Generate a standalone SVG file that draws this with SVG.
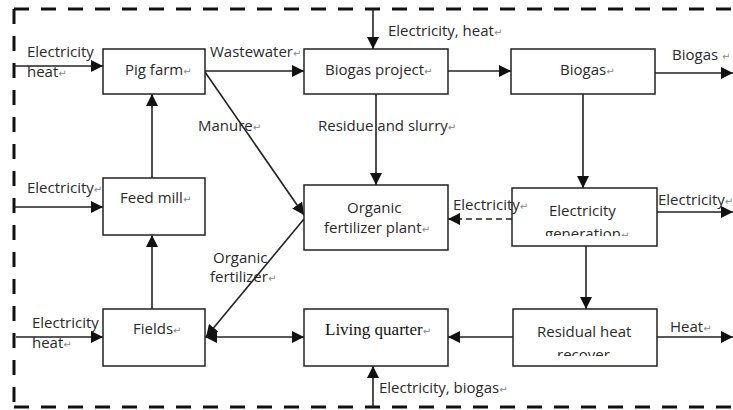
<svg xmlns="http://www.w3.org/2000/svg" width="733" height="410" viewBox="0 0 733 410">
<style>
.box{fill:#fff;stroke:#222;stroke-width:1.5}
.t{font-family:"Open Sans","Liberation Sans",sans-serif;font-size:15px;fill:#2a2a2a}
.s{font-family:"Liberation Serif",serif;font-size:17px;fill:#111}
.r{font-family:"DejaVu Sans",sans-serif;font-size:10px;fill:#888}
.ln{stroke:#222;stroke-width:1.6;fill:none}
</style>
<defs>
<marker id="ah" viewBox="0 0 12 12" refX="12" refY="6" markerWidth="12" markerHeight="12" markerUnits="userSpaceOnUse" orient="auto-start-reverse"><path d="M0,0 L12,6 L0,12 z" fill="#111"/></marker>
<clipPath id="cg"><rect x="512" y="188" width="145" height="48"/></clipPath>
<clipPath id="cr"><rect x="513" y="309" width="144" height="47"/></clipPath>
</defs>
<g id="frame" fill="none" stroke="#111" stroke-width="3" stroke-dasharray="15 12">
<line x1="14" y1="9" x2="733" y2="9"/>
<line x1="14" y1="9" x2="14" y2="407"/>
<line x1="14" y1="407" x2="733" y2="407"/>
</g>
<g id="connectors">
<line class="ln" x1="14" y1="66" x2="103" y2="66" marker-end="url(#ah)"/>
<line class="ln" x1="205" y1="71" x2="304" y2="71" marker-end="url(#ah)"/>
<line class="ln" x1="373" y1="9" x2="373" y2="49" marker-end="url(#ah)"/>
<line class="ln" x1="448" y1="71" x2="511" y2="71" marker-end="url(#ah)"/>
<line class="ln" x1="655" y1="73" x2="733" y2="73" marker-end="url(#ah)"/>
<line class="ln" x1="205" y1="72" x2="304" y2="215" marker-end="url(#ah)"/>
<line class="ln" x1="376" y1="94" x2="376" y2="185" marker-end="url(#ah)"/>
<line class="ln" x1="583" y1="94" x2="583" y2="188" marker-end="url(#ah)"/>
<line class="ln" x1="512" y1="219" x2="448" y2="219" stroke-dasharray="6 4" marker-end="url(#ah)"/>
<line class="ln" x1="657" y1="212" x2="733" y2="212" marker-end="url(#ah)"/>
<line class="ln" x1="586" y1="246" x2="586" y2="309" marker-end="url(#ah)"/>
<line class="ln" x1="657" y1="337" x2="733" y2="337" marker-end="url(#ah)"/>
<line class="ln" x1="513" y1="337" x2="448" y2="337" marker-end="url(#ah)"/>
<line class="ln" x1="205" y1="337" x2="304" y2="337" marker-start="url(#ah)" marker-end="url(#ah)"/>
<line class="ln" x1="304" y1="219" x2="206" y2="337" marker-end="url(#ah)"/>
<line class="ln" x1="152" y1="178" x2="152" y2="94" marker-end="url(#ah)"/>
<line class="ln" x1="152" y1="309" x2="152" y2="235" marker-end="url(#ah)"/>
<line class="ln" x1="14" y1="207" x2="103" y2="207" marker-end="url(#ah)"/>
<line class="ln" x1="16" y1="337" x2="103" y2="337" marker-end="url(#ah)"/>
<line class="ln" x1="373" y1="407" x2="373" y2="366" marker-end="url(#ah)"/>
</g>
<g id="pig-farm"><rect class="box" x="103" y="49" width="102" height="45"/><text class="t" x="125" y="75">Pig farm<tspan class="r">↵</tspan></text></g>
<g id="biogas-project"><rect class="box" x="304" y="49" width="144" height="45"/><text class="t" x="325" y="75">Biogas project<tspan class="r">↵</tspan></text></g>
<g id="biogas"><rect class="box" x="511" y="49" width="144" height="45"/><text class="t" x="560" y="75">Biogas<tspan class="r">↵</tspan></text></g>
<g id="feed-mill"><rect class="box" x="103" y="178" width="102" height="57"/><text class="t" x="120" y="203">Feed mill<tspan class="r">↵</tspan></text></g>
<g id="organic-fertilizer-plant"><rect class="box" x="304" y="185" width="144" height="65"/><text class="t" x="347" y="213">Organic</text><text class="t" x="324" y="233">fertilizer plant<tspan class="r">↵</tspan></text></g>
<g id="electricity-generation"><rect class="box" x="512" y="188" width="145" height="58"/><text class="t" x="549" y="216">Electricity</text><text class="t" x="545" y="239" clip-path="url(#cg)">generation<tspan class="r">↵</tspan></text></g>
<g id="fields"><rect class="box" x="103" y="309" width="102" height="57"/><text class="t" x="133" y="334">Fields<tspan class="r">↵</tspan></text></g>
<g id="living-quarter"><rect class="box" x="304" y="309" width="144" height="57"/><text class="s" x="325" y="335">Living quarter<tspan class="r">↵</tspan></text></g>
<g id="residual-heat-recover"><rect class="box" x="513" y="309" width="144" height="57"/><text class="t" x="537" y="337">Residual heat</text><text class="t" x="557" y="360" clip-path="url(#cr)">recover</text></g>
<g id="labels">
<text class="t" x="27" y="57">Electricity</text>
<text class="t" x="27" y="77">heat<tspan class="r">↵</tspan></text>
<text class="t" x="210" y="57">Wastewater<tspan class="r">↵</tspan></text>
<text class="t" x="388" y="36">Electricity, heat<tspan class="r">↵</tspan></text>
<text class="t" x="672" y="60">Biogas <tspan class="r">↵</tspan></text>
<text class="t" x="198" y="131">Manure<tspan class="r">↵</tspan></text>
<text class="t" x="318" y="131">Residue and slurry<tspan class="r">↵</tspan></text>
<text class="t" x="27" y="193">Electricity<tspan class="r">↵</tspan></text>
<text class="t" x="453" y="210">Electricity<tspan class="r">↵</tspan></text>
<text class="t" x="658" y="205">Electricity<tspan class="r">↵</tspan></text>
<text class="t" x="213" y="263">Organic</text>
<text class="t" x="210" y="282">fertilizer<tspan class="r">↵</tspan></text>
<text class="t" x="32" y="328">Electricity</text>
<text class="t" x="32" y="348">heat<tspan class="r">↵</tspan></text>
<text class="t" x="670" y="332">Heat<tspan class="r">↵</tspan></text>
<text class="t" x="379" y="393">Electricity, biogas<tspan class="r">↵</tspan></text>
</g>
</svg>
